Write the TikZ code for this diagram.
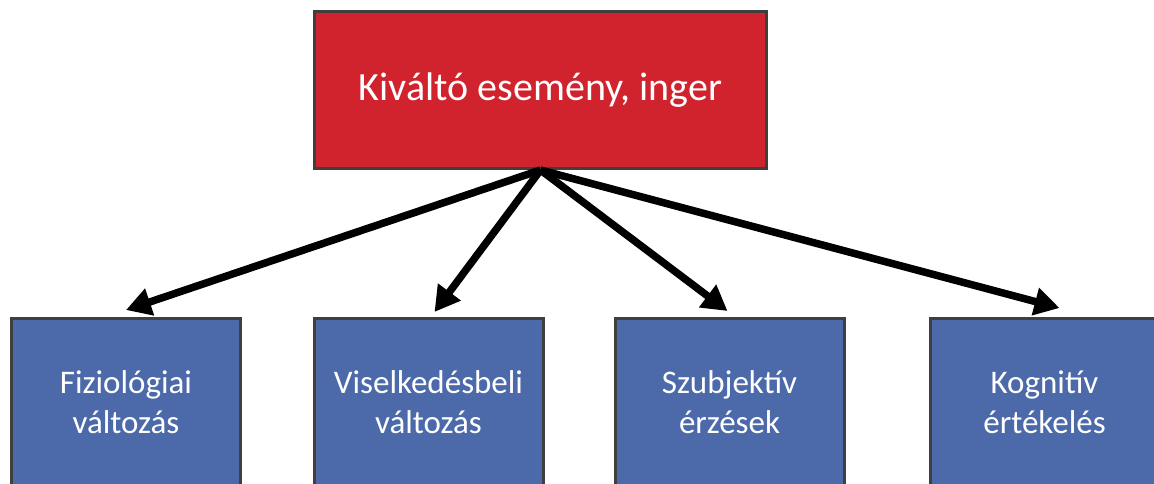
\documentclass[tikz,border=0pt]{standalone}
\usepackage{fontspec}
\setmainfont{Carlito}
\usetikzlibrary{arrows.meta, positioning}
\definecolor{triggerred}{HTML}{D0232D}
\definecolor{boxblue}{HTML}{4C69AA}
\definecolor{edgegray}{HTML}{3F3F3F}
\tikzset{
    trigger/.style={draw=edgegray, line width=3pt, fill=triggerred, text=white,
        minimum width=452pt, minimum height=157pt, font=\fontsize{40}{48}\selectfont},
    reaction/.style={draw=edgegray, line width=3pt, fill=boxblue, text=white, align=center,
        minimum width=229pt, minimum height=167pt, font=\fontsize{33}{40}\selectfont},
    fatarrow/.style={-{Triangle[length=25pt, width=27pt]}, line width=7.5pt}
}
\begin{document}
\begin{tikzpicture}[x=1pt, y=-1pt]
    \useasboundingbox (0,0) rectangle (1154,484);
    \clip (0,0) rectangle (1154,484);
    \node[trigger] (inger) at (540.5, 90) {Kiváltó esemény, inger};
    \node[reaction] (fiz) at (126, 402) {Fiziológiai\\változás};
    \node[reaction] (visel) at (428.5, 402) {Viselkedésbeli\\változás};
    \node[reaction] (szub) at (729.5, 402) {Szubjektív\\érzések};
    \node[reaction] (kogn) at (1044.5, 402) {Kognitív\\értékelés};
    % arrows out of the trigger box
    \draw[fatarrow] (inger.south) -- ([yshift=7pt]fiz.north);
    \draw[fatarrow] (inger.south) -- ([xshift=6pt, yshift=5pt]visel.north);
    \draw[fatarrow] (inger.south) -- ([xshift=-2pt, yshift=6pt]szub.north);
    \draw[fatarrow] (inger.south) -- ([xshift=15pt, yshift=9pt]kogn.north);
\end{tikzpicture}
\end{document}
